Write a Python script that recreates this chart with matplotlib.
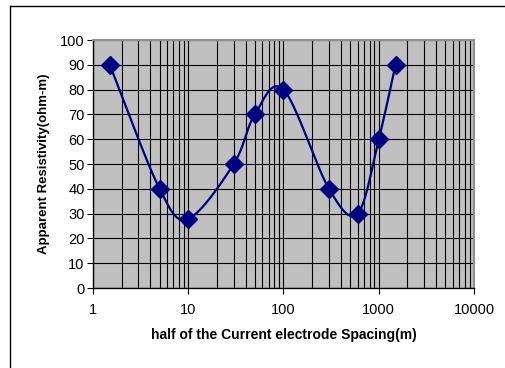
import numpy as np
import matplotlib
matplotlib.use("Agg")
import matplotlib.pyplot as plt
from matplotlib.ticker import LogLocator, FixedLocator, NullFormatter, FixedFormatter
from matplotlib.lines import Line2D

spacing = [1.5, 5, 10, 30, 50, 100, 300, 600, 1000, 1500]
resistivity = [90, 40, 28, 50, 70, 80, 40, 30, 60, 90]
x_ticks = [1, 10, 100, 1000, 10000]
x_tick_labels = ["1", "10", "100", "1000", "10000"]
y_ticks = list(range(0, 101, 10))

plt.rcParams['font.family'] = ['Liberation Sans', 'DejaVu Sans']

W, H = 506, 368
fig = plt.figure(figsize=(W / 100, H / 100), dpi=100)
ax = fig.add_axes([93 / W, 1 - 288 / H, (474 - 93) / W, (288 - 40) / H])

ax.set_xscale('log')
ax.set_xlim(1, 10000)
ax.set_ylim(0, 100)
ax.set_facecolor('#C0C0C0')

ax.xaxis.set_major_locator(FixedLocator(x_ticks))
ax.xaxis.set_major_formatter(FixedFormatter(x_tick_labels))
ax.xaxis.set_minor_locator(LogLocator(base=10, subs=np.arange(2, 10)))
ax.xaxis.set_minor_formatter(NullFormatter())
ax.yaxis.set_major_locator(FixedLocator(y_ticks))

ax.grid(True, which='major', axis='both', color='black', linewidth=0.8)
ax.grid(True, which='minor', axis='x', color='black', linewidth=0.8)
ax.set_axisbelow(True)

ax.tick_params(axis='x', which='major', direction='out', length=4, width=0.8,
               labelsize=10.5, pad=7, colors='black')
ax.tick_params(axis='x', which='minor', length=0)
ax.tick_params(axis='y', which='major', direction='out', length=4, width=0.8,
               labelsize=10.5, pad=2)

for s in ['left', 'bottom']:
    ax.spines[s].set_color('black')
    ax.spines[s].set_linewidth(1.0)
for s in ['top', 'right']:
    ax.spines[s].set_color('#909090')
    ax.spines[s].set_linewidth(1.5)

ax.set_xlabel('half of the Current electrode Spacing(m)', fontsize=10,
              fontweight='bold', labelpad=8)
ax.set_ylabel('Apparent Resistivity(ohm-m)', fontsize=9.5,
              fontweight='bold', labelpad=7)

# smooth curve (Bezier in display space, like Excel smoothing)
fig.canvas.draw()
pts = ax.transData.transform(np.column_stack([spacing, resistivity]))
n = len(pts)
curve = []
for i in range(n - 1):
    p0 = pts[i - 1] if i > 0 else pts[i]
    p1 = pts[i]
    p2 = pts[i + 1]
    p3 = pts[i + 2] if i + 2 < n else pts[i + 1]
    c1 = p1 + (p2 - p0) / 6.0
    c2 = p2 - (p3 - p1) / 6.0
    t = np.linspace(0, 1, 40)[:, None]
    seg = ((1 - t) ** 3) * p1 + 3 * ((1 - t) ** 2) * t * c1 + 3 * (1 - t) * t ** 2 * c2 + t ** 3 * p2
    curve.append(seg if i == 0 else seg[1:])
curve = np.vstack(curve)
curve_data = ax.transData.inverted().transform(curve)
ax.plot(curve_data[:, 0], curve_data[:, 1], color='#000080', linewidth=1.6,
        solid_capstyle='round', zorder=3)
ax.plot(spacing, resistivity, linestyle='none', marker='D', markersize=9,
        color='#000080', zorder=4)

# outer chart border
fig.add_artist(Line2D([10 / W, 10 / W], [0, 1 - 6 / H], transform=fig.transFigure,
                      color='black', linewidth=1.0))
fig.add_artist(Line2D([10 / W, 1], [1 - 6 / H, 1 - 6 / H], transform=fig.transFigure,
                      color='black', linewidth=1.0))

fig.savefig('out.png', dpi=100, facecolor='white')
